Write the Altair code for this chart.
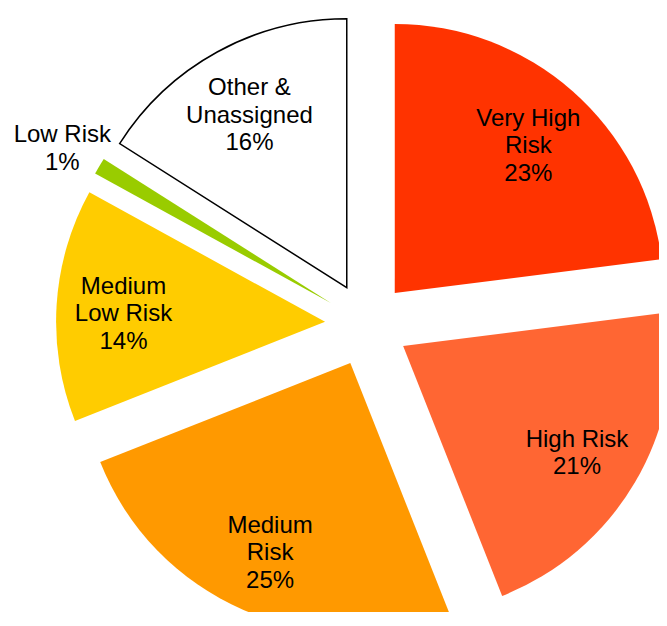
import altair as alt
import pandas as pd

categories = ["Very High Risk", "High Risk", "Medium Risk", "Medium Low Risk", "Low Risk", "Other & Unassigned"]
label_lines = ["Very High\nRisk", "High Risk", "Medium\nRisk", "Medium\nLow Risk", "Low Risk", "Other &\nUnassigned"]
shares = [23, 21, 25, 14, 1, 16]
colors = ["#FF3300", "#FF6633", "#FF9900", "#FFCC00", "#99CC00", "#FFFFFF"]
strokes = ["transparent", "transparent", "transparent", "transparent", "transparent", "#000000"]

df = pd.DataFrame({
    "category": categories,
    "txt": [f"{l}\n{s}%" for l, s in zip(label_lines, shares)],
    "nlines": [l.count("\n") + 2 for l in label_lines],
    "share": shares,
    "order": list(range(len(categories))),
})

CX, CY = 359, 316.5
R = 269
EXPLODE = 42
LABEL_IN = 202
LABEL_OUT = 312
LINE_H = 27.6

base = (
    alt.Chart(df)
    .transform_window(cum="sum(share)", sort=[alt.SortField("order")], frame=[None, 0])
    .transform_joinaggregate(total="sum(share)")
    .transform_calculate(t0="2*PI*(datum.cum - datum.share)/datum.total")
    .transform_calculate(t1="2*PI*datum.cum/datum.total")
    .transform_calculate(mid="(datum.t0 + datum.t1)/2")
    .transform_calculate(px=f"{CX} + {EXPLODE}*sin(datum.mid)")
    .transform_calculate(py=f"{CY} - {EXPLODE}*cos(datum.mid)")
    .transform_calculate(lr=f"datum.share/datum.total < 0.05 ? {LABEL_OUT} : {LABEL_IN}")
    .transform_calculate(lx="datum.px + datum.lr*sin(datum.mid)")
    .transform_calculate(ly=f"datum.py - datum.lr*cos(datum.mid) - (datum.nlines - 1)*{LINE_H}/2")
)

arcs = base.mark_arc(radius=R, strokeWidth=1.5).encode(
    theta=alt.Theta("t0:Q", scale=None, stack=False),
    theta2="t1:Q",
    x=alt.X("px:Q", scale=None, axis=None),
    y=alt.Y("py:Q", scale=None, axis=None),
    color=alt.Color("category:N", scale=alt.Scale(domain=categories, range=colors), legend=None),
    stroke=alt.Stroke("category:N", scale=alt.Scale(domain=categories, range=strokes), legend=None),
)

labels = base.mark_text(
    font="Liberation Sans", fontSize=24, lineBreak="\n", lineHeight=LINE_H,
    align="center", baseline="middle", color="black", dy=5,
).encode(
    x=alt.X("lx:Q", scale=None, axis=None),
    y=alt.Y("ly:Q", scale=None, axis=None),
    text="txt:N",
)

chart = (
    alt.layer(arcs, labels)
    .properties(width=651, height=604, padding=0, autosize="none")
    .configure_view(stroke=None)
)

chart.save("out.html", embed_options={"renderer": "svg", "actions": False})
